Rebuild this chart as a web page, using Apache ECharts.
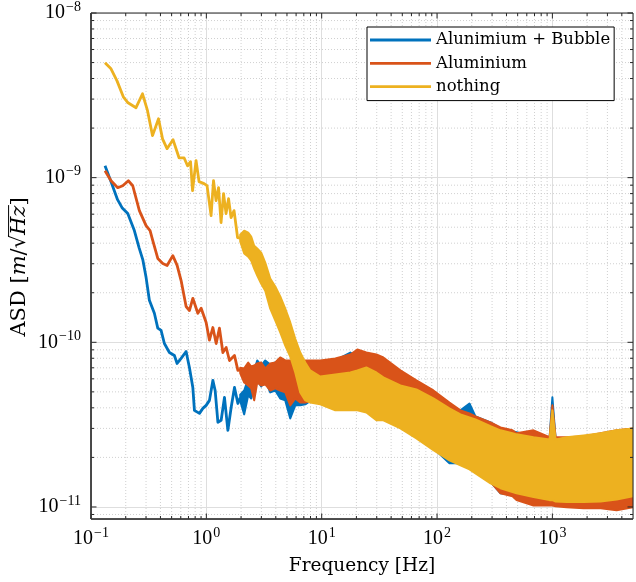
<!DOCTYPE html>
<html><head><meta charset="utf-8">
<script src="https://cdn.jsdelivr.net/npm/echarts@6/dist/echarts.min.js"></script>
<style>html,body{margin:0;padding:0;background:#fff}#c{width:636px;height:582px}</style>
</head><body><div id="c"></div>
<script>
// ---- data ----
const seriesNames = ['Alunimium + Bubble', 'Aluminium', 'nothing'];
const seriesColors = ['#0072BD', '#D95319', '#EDB120'];
const xTickExps = [-1, 0, 1, 2, 3];
const yTickExps = [-11, -10, -9, -8];
const xMin = 0.1, xMax = 5000, yMin = 8.45e-12, yMax = 1e-8;
const xAxisTitle = 'Frequency [Hz]';
const yAxisTitleParts = [['ASD [', false], ['m', true], ['/', false], ['\u221A', false], ['Hz', true], [']', false]];

// low-frequency (line) part
const blueFreq = [0.1323,0.1492,0.1699,0.1858,0.2083,0.2376,0.2610,0.2811,0.3002,0.3207,0.3544,0.3793,0.4051,0.4328,0.4783,0.5286,0.5579,0.6042,0.6677,0.7133,0.7635,0.7883,0.8712,0.9325,0.9960,1.064,1.139,1.192,1.259,1.344,1.436,1.537,1.642,1.754,1.877,1.966];
const blueAsd = [1.18e-9,9.44e-10,7.35e-10,6.57e-10,6.05e-10,4.77e-10,3.76e-10,3.18e-10,2.48e-10,1.80e-10,1.50e-10,1.22e-10,1.18e-10,9.83e-11,8.67e-11,8.32e-11,7.44e-11,7.98e-11,8.79e-11,7.03e-11,5.32e-11,3.86e-11,3.70e-11,3.97e-11,4.14e-11,4.44e-11,5.87e-11,5.10e-11,3.27e-11,3.36e-11,4.63e-11,2.92e-11,4.03e-11,5.32e-11,4.25e-11,4.6e-11];

const orangeFreq = [0.1323,0.1492,0.1705,0.1884,0.2108,0.2301,0.2626,0.3002,0.3252,0.3433,0.3793,0.4192,0.4567,0.5119,0.5579,0.6042,0.6677,0.7133,0.7635,0.8438,0.9014,0.9960,1.064,1.139,1.217,1.299,1.391,1.486,1.587,1.754,1.877,1.966];
const orangeAsd = [1.10e-9,9.57e-10,8.69e-10,8.93e-10,9.57e-10,8.93e-10,6.30e-10,5.11e-10,4.77e-10,4.15e-10,3.23e-10,3.01e-10,2.93e-10,3.36e-10,2.93e-10,2.37e-10,1.65e-10,1.56e-10,1.85e-10,1.50e-10,1.61e-10,1.32e-10,1.03e-10,1.23e-10,9.83e-11,1.22e-10,8.67e-11,9.30e-11,7.75e-11,8.32e-11,6.75e-11,6.8e-11];

const yellowFreq = [0.1322,0.1491,0.1681,0.1913,0.2094,0.2456,0.2797,0.3090,0.3415,0.3850,0.4171,0.4562,0.5143,0.5798,0.6408,0.6869,0.7294,0.7593,0.8141,0.8644,0.9551,1.014,1.099,1.154,1.214,1.276,1.341,1.410,1.482,1.558,1.638,1.739,1.865,1.966];
const yellowAsd = [4.98e-9,4.58e-9,3.87e-9,3.08e-9,2.85e-9,2.66e-9,3.23e-9,2.55e-9,1.80e-9,2.28e-9,1.72e-9,1.50e-9,1.70e-9,1.32e-9,1.32e-9,1.18e-9,1.25e-9,8.34e-10,1.27e-9,9.46e-10,9.20e-10,8.94e-10,5.88e-10,9.59e-10,7.25e-10,8.70e-10,5.34e-10,8.00e-10,6.05e-10,7.46e-10,5.72e-10,6.31e-10,4.33e-10,4.3e-10];

// high-frequency (noisy band) part: upper / lower envelope
const bandFreq = [1.966,2.129,2.306,2.448,2.599,2.761,2.990,3.240,3.580,3.956,4.372,4.831,5.339,5.899,6.520,7.204,7.962,9.723,13.12,17.72,20.37,24.39,29.79,34.26,48.12,66.25,93.05,128.1,159.6,191.1,215.4,290.8,355.1,451.2,489.0,686.7,945.6,1000,1066,1328,1866,2620,3608,5000];
const blueBandHi = [4.8e-11,5.10e-11,6.03e-11,6.20e-11,6.75e-11,7.76e-11,7.23e-11,7.76e-11,7.34e-11,7.54e-11,7.23e-11,6.94e-11,6.56e-11,7.13e-11,6.75e-11,7.03e-11,7.13e-11,7.34e-11,7.76e-11,8.67e-11,8.20e-11,7.98e-11,7.54e-11,7.13e-11,6.56e-11,5.55e-11,4.69e-11,4.14e-11,3.86e-11,4.25e-11,3.55e-11,3.26e-11,3.00e-11,2.88e-11,2.84e-11,2.68e-11,2.61e-11,4.63e-11,2.61e-11,2.61e-11,2.65e-11,2.76e-11,2.88e-11,3.00e-11];
const blueBandLo = [4.4e-11,3.65e-11,4.76e-11,4.56e-11,5.39e-11,5.87e-11,5.39e-11,5.87e-11,4.96e-11,5.10e-11,4.56e-11,4.44e-11,3.45e-11,4.14e-11,4.14e-11,4.20e-11,4.4e-11,4.3e-11,3.95e-11,3.95e-11,3.95e-11,3.85e-11,3.45e-11,3.45e-11,3.08e-11,2.68e-11,2.27e-11,1.84e-11,1.84e-11,1.74e-11,1.64e-11,1.42e-11,1.21e-11,1.18e-11,1.16e-11,1.11e-11,1.10e-11,1.10e-11,1.08e-11,1.05e-11,1.02e-11,1.01e-11,1.02e-11,1.07e-11];
const orangeBandHi = [7.0e-11,6.94e-11,7.54e-11,7.13e-11,7.23e-11,7.44e-11,7.54e-11,6.94e-11,7.44e-11,7.54e-11,8.09e-11,7.76e-11,7.76e-11,7.44e-11,7.23e-11,7.76e-11,7.76e-11,7.76e-11,7.98e-11,8.43e-11,9.04e-11,8.67e-11,8.43e-11,8.09e-11,6.75e-11,5.87e-11,5.10e-11,4.31e-11,3.86e-11,3.70e-11,3.55e-11,3.26e-11,3.04e-11,2.92e-11,2.80e-11,2.92e-11,2.65e-11,4.14e-11,2.65e-11,2.65e-11,2.68e-11,2.80e-11,2.92e-11,3.00e-11];
const orangeBandLo = [6.5e-11,5.70e-11,5.47e-11,5.25e-11,4.44e-11,5.70e-11,5.47e-11,5.55e-11,5.10e-11,5.25e-11,5.10e-11,4.96e-11,4.14e-11,4.56e-11,4.31e-11,4.31e-11,4.4e-11,4.3e-11,3.95e-11,3.95e-11,3.95e-11,3.85e-11,3.45e-11,3.45e-11,3.08e-11,2.68e-11,2.27e-11,1.97e-11,1.84e-11,1.74e-11,1.64e-11,1.42e-11,1.21e-11,1.16e-11,1.10e-11,1.02e-11,1.02e-11,1.02e-11,1.01e-11,9.96e-12,9.82e-12,9.82e-12,9.55e-12,9.96e-12];
const yellowBandHi = [4.5e-10,4.76e-10,4.63e-10,4.38e-10,3.86e-10,3.71e-10,3.50e-10,3.05e-10,2.44e-10,2.18e-10,1.90e-10,1.60e-10,1.32e-10,1.05e-10,8.67e-11,7.54e-11,6.75e-11,6.20e-11,6.38e-11,6.56e-11,6.75e-11,7.03e-11,6.56e-11,6.12e-11,5.47e-11,5.17e-11,4.56e-11,3.97e-11,3.65e-11,3.50e-11,3.40e-11,3.09e-11,2.92e-11,2.80e-11,2.76e-11,2.65e-11,2.57e-11,3.86e-11,2.57e-11,2.65e-11,2.72e-11,2.80e-11,2.92e-11,3.00e-11];
const yellowBandLo = [4.1e-10,3.46e-10,3.31e-10,3.13e-10,2.80e-10,2.54e-10,2.27e-10,2.06e-10,1.60e-10,1.36e-10,1.15e-10,9.56e-11,8.20e-11,6.56e-11,4.96e-11,4.44e-11,4.31e-11,4.20e-11,3.86e-11,3.86e-11,3.86e-11,3.75e-11,3.36e-11,3.36e-11,3.00e-11,2.61e-11,2.21e-11,1.92e-11,1.79e-11,1.69e-11,1.60e-11,1.39e-11,1.30e-11,1.23e-11,1.21e-11,1.15e-11,1.10e-11,1.10e-11,1.08e-11,1.07e-11,1.07e-11,1.08e-11,1.11e-11,1.16e-11];

// ---- axis structure ----
const xMajor = xTickExps.map(e => Math.pow(10, e));
const yMajor = yTickExps.map(e => Math.pow(10, e));
const xMinor = [], yMinor = [];
for (let e = -1; e <= 3; e++) for (let k = 2; k <= 9; k++) { const v = k * Math.pow(10, e); if (v < xMax) xMinor.push(v); }
for (let e = -12; e <= -9; e++) for (let k = 2; k <= 9; k++) { const v = k * Math.pow(10, e); if (v > yMin && v < yMax) yMinor.push(v); }

function expLabel(exps) {
  return function (v) {
    const e = Math.log10(v), n = Math.round(e);
    if (Math.abs(e - n) > 1e-6 || exps.indexOf(n) < 0) return '';
    return '{b|10}{s|' + (n < 0 ? '\u2212' + (-n) : String(n)) + '}';
  };
}
const labelRich = {
  b: { fontFamily: 'Liberation Serif', fontSize: 20, color: '#000' },
  s: { fontFamily: 'Liberation Serif', fontSize: 14, color: '#000', padding: [0, 0, 12, 1] }
};

function lineSeries(i, fr, vals, z) {
  return {
    type: 'line', name: seriesNames[i], data: fr.map((f, k) => [f, vals[k]]),
    showSymbol: false, symbol: 'none', z: z, clip: true, animation: false,
    lineStyle: { color: seriesColors[i], width: 2.8, join: 'round' }, itemStyle: { color: seriesColors[i] }
  };
}
function bandSeries(i, hi, lo, z) {
  const col = seriesColors[i];
  return {
    type: 'custom', name: seriesNames[i] + ' band', coordinateSystem: 'cartesian2d', z: z, clip: true,
    silent: true, animation: false,
    data: bandFreq.map((f, k) => [f, hi[k], lo[k]]), encode: { x: 0, y: [1, 2] },
    renderItem: function (params, api) {
      if (params.dataIndex !== 0) return null;
      const pts = [];
      for (let k = 0; k < bandFreq.length; k++) pts.push(api.coord([bandFreq[k], hi[k]]));
      for (let k = bandFreq.length - 1; k >= 0; k--) pts.push(api.coord([bandFreq[k], lo[k]]));
      return { type: 'polygon', shape: { points: pts }, style: { fill: col, stroke: col, lineWidth: 2, lineJoin: 'round' } };
    }
  };
}
function gridSeries() {
  return {
    type: 'custom', coordinateSystem: 'cartesian2d', z: 1, silent: true, animation: false, clip: false,
    data: [[xMin, yMin]], encode: { x: 0, y: 1 },
    renderItem: function (params, api) {
      const cs = params.coordSys, x0 = cs.x, y0 = cs.y, x1 = cs.x + cs.width, y1 = cs.y + cs.height;
      const ch = [];
      const dot = { stroke: '#c4c4c4', lineWidth: 0.8, lineDash: [1, 2] };
      xMinor.forEach(v => { const p = api.coord([v, yMin])[0]; ch.push({ type: 'line', shape: { x1: p, y1: y0, x2: p, y2: y1 }, style: dot }); });
      yMinor.forEach(v => { const p = api.coord([xMin, v])[1]; ch.push({ type: 'line', shape: { x1: x0, y1: p, x2: x1, y2: p }, style: dot }); });
      return { type: 'group', children: ch };
    }
  };
}
function frameSeries() {
  return {
    type: 'custom', coordinateSystem: 'cartesian2d', z: 20, silent: true, animation: false, clip: false,
    data: [[xMin, yMin]], encode: { x: 0, y: 1 },
    renderItem: function (params, api) {
      const cs = params.coordSys, x0 = cs.x, y0 = cs.y, x1 = cs.x + cs.width, y1 = cs.y + cs.height;
      const ch = [];
      const st = { stroke: '#262626', lineWidth: 1 };
      const tick = (vals, len) => {
        vals.forEach(v => {
          const p = api.coord([v, yMin])[0];
          ch.push({ type: 'line', shape: { x1: p, y1: y1, x2: p, y2: y1 - len }, style: st });
          ch.push({ type: 'line', shape: { x1: p, y1: y0, x2: p, y2: y0 + len }, style: st });
        });
      };
      const tickY = (vals, len) => {
        vals.forEach(v => {
          const p = api.coord([xMin, v])[1];
          ch.push({ type: 'line', shape: { x1: x0, y1: p, x2: x0 + len, y2: p }, style: st });
          ch.push({ type: 'line', shape: { x1: x1, y1: p, x2: x1 - len, y2: p }, style: st });
        });
      };
      tick(xMajor, 5.5); tick(xMinor, 3); tickY(yMajor, 5.5); tickY(yMinor, 3);
      ch.push({ type: 'rect', shape: { x: x0, y: y0, width: cs.width, height: cs.height }, style: { fill: 'none', stroke: '#262626', lineWidth: 1 } });
      ch.push({ type: 'line', shape: { x1: x0, y1: y0, x2: x0, y2: y1 }, style: { stroke: '#3a3a3a', lineWidth: 1.6 } });
      ch.push({ type: 'line', shape: { x1: x0, y1: y1, x2: x1, y2: y1 }, style: { stroke: '#3a3a3a', lineWidth: 1.6 } });
      return { type: 'group', children: ch };
    }
  };
}

// y-axis title built from real text pieces (with the sqrt overline)
function yTitleGraphic() {
  const fs = 21;
  const ctx = document.createElement('canvas').getContext('2d');
  const fontOf = it => (it ? 'italic ' : '') + fs + 'px "DejaVu Serif"';
  let w = 0; const pos = [];
  yAxisTitleParts.forEach(p => { ctx.font = fontOf(p[1]); const ww = ctx.measureText(p[0]).width; pos.push([w, ww]); w += ww; });
  const start = -w / 2;
  const children = yAxisTitleParts.map((p, k) => ({
    type: 'text', style: { text: p[0], x: start + pos[k][0], y: 0, font: fontOf(p[1]), fill: '#000', textAlign: 'left', textVerticalAlign: 'middle', verticalAlign: 'middle' }
  }));
  const sq = pos[3], hz = pos[4];
  children.push({ type: 'line', shape: { x1: start + sq[0] + sq[1] - 1.2, y1: -0.52 * fs, x2: start + hz[0] + hz[1] + 0.5, y2: -0.52 * fs }, style: { stroke: '#000', lineWidth: 1 } });
  return { type: 'group', x: 19.5, y: 267, rotation: Math.PI / 2, silent: true, children: children };
}

const chart = echarts.init(document.getElementById('c'), null, { renderer: 'canvas' });
chart.setOption({
  animation: false,
  backgroundColor: '#fff',
  grid: { left: 91, top: 12, right: 3, bottom: 63, containLabel: false },
  legend: {
    data: seriesNames, orient: 'vertical', left: 367, top: 27, z: 30,
    backgroundColor: '#fff', borderColor: '#000', borderWidth: 1, borderRadius: 0,
    padding: [3, 4, 4, 3], itemGap: 3.3, itemWidth: 61, itemHeight: 2.8, icon: 'rect', align: 'left',
    textStyle: { fontFamily: 'DejaVu Serif', fontSize: 16.5, color: '#000', lineHeight: 20 }
  },
  graphic: [yTitleGraphic()],
  xAxis: {
    type: 'log', logBase: 10, min: xMin, max: xMax,
    name: xAxisTitle, nameLocation: 'middle', nameGap: 38,
    nameTextStyle: { fontFamily: 'DejaVu Serif', fontSize: 18.5, color: '#000' },
    axisLine: { show: false }, axisTick: { show: false },
    axisLabel: { formatter: expLabel(xTickExps), rich: labelRich, margin: 7, hideOverlap: false, showMinLabel: true, showMaxLabel: true },
    splitLine: { show: true, lineStyle: { color: '#dedede', width: 1 } }
  },
  yAxis: {
    type: 'log', logBase: 10, min: yMin, max: yMax,
    axisLine: { show: false }, axisTick: { show: false },
    axisLabel: { formatter: expLabel(yTickExps), rich: labelRich, margin: 10, hideOverlap: false, showMinLabel: true, showMaxLabel: true },
    splitLine: { show: true, lineStyle: { color: '#dedede', width: 1 } }
  },
  series: [
    gridSeries(),
    lineSeries(0, blueFreq, blueAsd, 3),
    bandSeries(0, blueBandHi, blueBandLo, 4),
    lineSeries(1, orangeFreq, orangeAsd, 5),
    bandSeries(1, orangeBandHi, orangeBandLo, 6),
    lineSeries(2, yellowFreq, yellowAsd, 7),
    bandSeries(2, yellowBandHi, yellowBandLo, 8),
    frameSeries()
  ]
});
</script></body></html>
